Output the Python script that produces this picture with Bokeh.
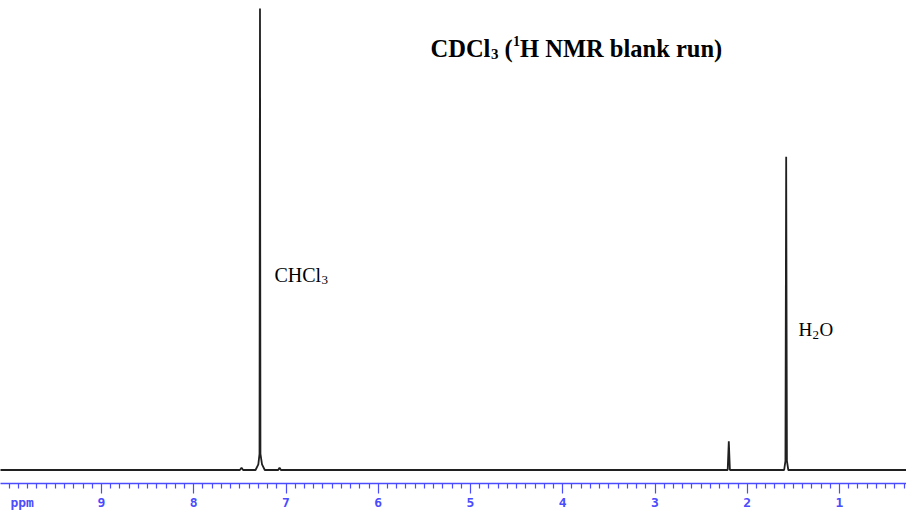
from bokeh.plotting import figure
from bokeh.models import Range1d, FixedTicker, Label, LinearAxis
from bokeh.embed import file_html
from bokeh.resources import INLINE

# ---- data (chemical shift in ppm, relative intensity) ----
shift_ppm = [10.10, 7.50, 7.482, 7.465, 7.33, 7.30, 7.287, 7.282, 7.277, 7.26, 7.23,
             7.085, 7.07, 7.055, 2.212, 2.200, 2.188, 1.60, 1.586, 1.578, 1.570, 1.555, 0.10]
intensity = [0.0, 0.0, 0.5, 0.0, 0.0, 1.2, 3.5, 100.0, 3.5, 1.2, 0.0,
             0.0, 0.5, 0.0, 0.0, 6.2, 0.0, 0.0, 2.0, 67.9, 2.0, 0.0, 0.0]
major_ticks = [9, 8, 7, 6, 5, 4, 3, 2, 1]
minor_ticks = [k / 10 for k in range(1, 101) if k % 10 != 0] + [10.0]
unit_label = "ppm"
title_parts = ["CDCl", "3", "(", "1", "H NMR blank run)"]
peak_labels = ["CHCl", "3", "H", "2", "O"]

# ---- mapping helpers (reference pixel -> data) ----
SHIFT = 3  # vertical shift (px) so the axis labels fit in the page

def rx(x):
    return 9 - (x - 101) / 92.25

def ry(y):
    return (472.5 - y) / 4.615

FW, FH = 906, 483
p = figure(frame_width=FW, frame_height=FH, output_backend="svg", toolbar_location=None,
           x_range=Range1d(rx(0), rx(FW)),
           y_range=Range1d(ry(FH + SHIFT), ry(SHIFT)),
           y_axis_location=None, min_border=0, background_fill_color="white",
           border_fill_color="white")
p.outline_line_color = None
p.grid.visible = False

p.line(shift_ppm, intensity, line_color="#202020", line_width=1.8)

blue = "#4b4bff"
ax = p.xaxis[0]
ax.ticker = FixedTicker(ticks=major_ticks, minor_ticks=minor_ticks)
ax.axis_line_color = blue
ax.axis_line_width = 1.5
ax.major_tick_line_color = blue
ax.minor_tick_line_color = blue
ax.major_tick_line_width = 1.2
ax.minor_tick_line_width = 1.2
ax.major_tick_in = 0
ax.minor_tick_in = 0
ax.major_tick_out = 10
ax.minor_tick_out = 5
ax.major_label_standoff = 0
ax.major_label_text_font_size = "1px"
ax.major_label_text_alpha = 0

unit_tick = round(rx(22), 2)
ax2 = LinearAxis(ticker=FixedTicker(ticks=major_ticks + [unit_tick], minor_ticks=[]),
                 major_label_overrides={unit_tick: unit_label},
                 axis_line_color=None, major_tick_line_color=None,
                 minor_tick_line_color=None, major_tick_in=0, major_tick_out=0,
                 minor_tick_in=0, minor_tick_out=0, major_label_standoff=1,
                 major_label_text_color=blue, major_label_text_font="DejaVu Sans Mono",
                 major_label_text_font_size="13px", major_label_text_font_style="bold")
p.add_layout(ax2, "below")

def lab(xr, yr, text, size, bold=False):
    p.add_layout(Label(x=rx(xr), y=ry(yr), text=text, text_align="left",
                       text_baseline="alphabetic", text_color="black",
                       text_font="Liberation Serif", text_font_size=f"{size}px",
                       text_font_style="bold" if bold else "normal"))

# title
lab(430, 51, title_parts[0], 24.5, True)
lab(490.5, 56.5, title_parts[1], 15, True)
lab(504, 51, title_parts[2], 24.5, True)
lab(512.5, 43, title_parts[3], 14, True)
lab(519.5, 51, title_parts[4], 24.5, True)

# peak labels
lab(274, 277, peak_labels[0], 20)
lab(321, 282.5, peak_labels[1], 13)
lab(798, 332, peak_labels[2], 19)
lab(812, 337, peak_labels[3], 13)
lab(819, 332, peak_labels[4], 19)

open("out.html", "w").write(file_html(p, INLINE))
